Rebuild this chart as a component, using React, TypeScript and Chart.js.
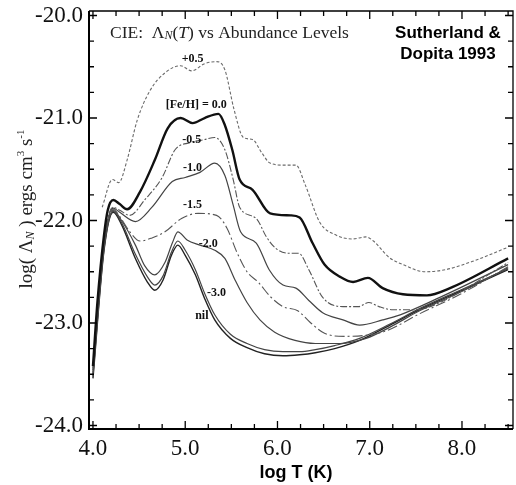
import React, { useEffect, useRef } from "react";
import { Chart, registerables } from "chart.js";

Chart.register(...registerables);

// ---- Data: log T (K) and log(Lambda_N) for each abundance level ----
const tPlus05 = [4.10, 4.21, 4.28, 4.37, 4.48, 4.62, 4.78, 4.95, 5.07, 5.21, 5.34, 5.43, 5.53, 5.63, 5.73, 5.83, 5.92, 6.08, 6.20, 6.30, 6.46, 6.63, 6.81, 6.96, 7.04, 7.21, 7.36, 7.60, 7.82, 8.14, 8.50];
const vPlus05 = [-21.87, -21.60, -21.63, -21.41, -21.02, -20.73, -20.56, -20.49, -20.54, -20.47, -20.45, -20.53, -20.92, -21.19, -21.21, -21.34, -21.44, -21.46, -21.46, -21.65, -22.02, -22.14, -22.18, -22.16, -22.20, -22.36, -22.43, -22.50, -22.48, -22.39, -22.26];

const tSolar = [4.00, 4.05, 4.12, 4.16, 4.22, 4.29, 4.37, 4.51, 4.67, 4.81, 4.95, 5.08, 5.21, 5.36, 5.43, 5.51, 5.59, 5.73, 5.92, 6.14, 6.24, 6.38, 6.51, 6.68, 6.82, 6.98, 7.14, 7.36, 7.62, 7.87, 8.50];
const vSolar = [-23.42, -22.78, -22.14, -21.90, -21.80, -21.84, -21.89, -21.72, -21.41, -21.10, -21.00, -21.05, -21.00, -20.96, -21.07, -21.31, -21.60, -21.70, -21.93, -21.95, -21.97, -22.22, -22.43, -22.55, -22.60, -22.56, -22.66, -22.72, -22.73, -22.66, -22.37];

const tMinus05 = [4.00, 4.12, 4.22, 4.29, 4.40, 4.56, 4.75, 4.89, 5.05, 5.21, 5.32, 5.43, 5.52, 5.59, 5.77, 5.88, 5.98, 6.12, 6.23, 6.34, 6.49, 6.71, 6.88, 6.99, 7.10, 7.25, 7.51, 7.76, 8.50];
const vMinus05 = [-23.44, -22.19, -21.87, -21.90, -21.95, -21.80, -21.58, -21.31, -21.24, -21.21, -21.19, -21.31, -21.60, -21.87, -21.98, -22.16, -22.27, -22.32, -22.32, -22.48, -22.75, -22.84, -22.84, -22.80, -22.84, -22.87, -22.87, -22.80, -22.41];

const tMinus10 = [4.00, 4.12, 4.22, 4.29, 4.46, 4.64, 4.86, 5.00, 5.16, 5.32, 5.43, 5.52, 5.60, 5.77, 5.91, 6.06, 6.20, 6.34, 6.49, 6.71, 6.89, 7.14, 7.33, 7.76, 8.50];
const vMinus10 = [-23.46, -22.21, -21.88, -21.92, -22.01, -21.87, -21.62, -21.58, -21.53, -21.44, -21.56, -21.85, -22.11, -22.22, -22.48, -22.63, -22.66, -22.78, -22.90, -22.97, -23.02, -22.97, -22.92, -22.75, -22.43];

const tMinus15 = [4.00, 4.12, 4.22, 4.29, 4.40, 4.51, 4.64, 4.78, 4.96, 5.14, 5.34, 5.45, 5.56, 5.67, 5.79, 5.92, 6.06, 6.22, 6.35, 6.51, 6.73, 6.95, 7.17, 7.54, 7.98, 8.50];
const vMinus15 = [-23.48, -22.24, -21.89, -21.96, -22.11, -22.20, -22.17, -22.11, -21.98, -21.93, -21.95, -22.07, -22.31, -22.50, -22.60, -22.74, -22.84, -22.88, -22.99, -23.10, -23.13, -23.12, -23.08, -22.91, -22.72, -22.45];

const tMinus20 = [4.00, 4.12, 4.22, 4.31, 4.46, 4.56, 4.67, 4.78, 4.86, 4.92, 5.02, 5.16, 5.32, 5.43, 5.54, 5.67, 5.81, 5.97, 6.19, 6.41, 6.68, 6.96, 7.22, 7.54, 7.98, 8.50];
const vMinus20 = [-23.50, -22.26, -21.90, -22.00, -22.24, -22.44, -22.53, -22.41, -22.22, -22.11, -22.19, -22.24, -22.29, -22.37, -22.58, -22.80, -22.97, -23.09, -23.17, -23.20, -23.20, -23.15, -23.04, -22.88, -22.70, -22.46];

const tMinus30 = [4.00, 4.12, 4.22, 4.31, 4.46, 4.59, 4.67, 4.76, 4.85, 4.92, 5.00, 5.11, 5.21, 5.32, 5.49, 5.67, 5.86, 6.06, 6.24, 6.41, 6.62, 6.89, 7.22, 7.54, 7.98, 8.50];
const vMinus30 = [-23.52, -22.28, -21.91, -22.02, -22.33, -22.55, -22.63, -22.54, -22.31, -22.20, -22.29, -22.48, -22.71, -22.92, -23.11, -23.20, -23.26, -23.28, -23.28, -23.26, -23.22, -23.15, -23.01, -22.86, -22.68, -22.47];

const tNil = [4.00, 4.12, 4.22, 4.31, 4.46, 4.59, 4.67, 4.76, 4.85, 4.92, 5.00, 5.11, 5.21, 5.32, 5.49, 5.67, 5.86, 6.06, 6.24, 6.41, 6.62, 6.89, 7.22, 7.54, 7.98, 8.50];
const vNil = [-23.54, -22.29, -21.92, -22.04, -22.37, -22.60, -22.68, -22.58, -22.34, -22.24, -22.34, -22.53, -22.76, -22.97, -23.15, -23.24, -23.30, -23.32, -23.31, -23.29, -23.25, -23.17, -23.02, -22.87, -22.69, -22.48];

// curve annotation labels (placed in data coordinates)
const curveLabels = ["+0.5", "[Fe/H] = 0.0", "-0.5", "-1.0", "-1.5", "-2.0", "-3.0", "nil"];
const curveLabelT = [5.08, 5.12, 5.07, 5.08, 5.08, 5.25, 5.34, 5.18];
const curveLabelV = [-20.42, -20.87, -21.21, -21.49, -21.85, -22.23, -22.71, -22.93];

// axes
const xMin = 3.957;
const xMax = 8.553;
const yMin = -24.034;
const yMax = -19.956;
const xTickValues = [4, 5, 6, 7, 8];
const yTickValues = [-24, -23, -22, -21, -20];
const minorStep = 0.25;

const SERIF = '"Liberation Serif", "Times New Roman", serif';
const SANS = '"Liberation Sans", Arial, sans-serif';

type Run = { text: string; font: string; dy?: number };

function runsWidth(ctx: CanvasRenderingContext2D, runs: Run[]) {
  let w = 0;
  for (const r of runs) {
    ctx.font = r.font;
    w += ctx.measureText(r.text).width;
  }
  return w;
}
function drawRuns(ctx: CanvasRenderingContext2D, runs: Run[], x: number, y: number) {
  let cx = x;
  for (const r of runs) {
    ctx.font = r.font;
    ctx.fillText(r.text, cx, y + (r.dy || 0));
    cx += ctx.measureText(r.text).width;
  }
}

const decorPlugin = {
  id: "decor",
  afterDraw(chart: any) {
    const ctx: CanvasRenderingContext2D = chart.ctx;
    const xs = chart.scales.x;
    const ys = chart.scales.y;
    const { left, right, top, bottom } = chart.chartArea;
    ctx.save();
    ctx.strokeStyle = "#000";
    ctx.fillStyle = "#000";

    // frame
    ctx.lineWidth = 2;
    ctx.beginPath();
    ctx.moveTo(left, top);
    ctx.lineTo(left, bottom);
    ctx.lineTo(right, bottom);
    ctx.stroke();
    ctx.lineWidth = 1.3;
    ctx.beginPath();
    ctx.moveTo(left, top);
    ctx.lineTo(right, top);
    ctx.lineTo(right, bottom);
    ctx.stroke();

    // inward ticks
    ctx.lineWidth = 1.3;
    ctx.beginPath();
    for (let v = xTickValues[0]; v <= 8.5 + 1e-6; v += minorStep) {
      const px = xs.getPixelForValue(v);
      const major = Math.abs(v - Math.round(v)) < 1e-6;
      const len = major ? 8 : 5;
      ctx.moveTo(px, bottom);
      ctx.lineTo(px, bottom - len);
      ctx.moveTo(px, top);
      ctx.lineTo(px, top + len);
    }
    for (let v = yTickValues[0]; v <= yTickValues[yTickValues.length - 1] + 1e-6; v += minorStep) {
      const py = ys.getPixelForValue(v);
      const major = Math.abs(v - Math.round(v)) < 1e-6;
      const len = major ? 8 : 5;
      ctx.moveTo(left, py);
      ctx.lineTo(left + len, py);
      ctx.moveTo(right, py);
      ctx.lineTo(right - len, py);
    }
    ctx.stroke();

    // curve labels
    ctx.fillStyle = "#111";
    ctx.textAlign = "center";
    ctx.textBaseline = "middle";
    ctx.font = `bold 12px ${SERIF}`;
    curveLabels.forEach((txt, i) => {
      ctx.fillText(txt, xs.getPixelForValue(curveLabelT[i]), ys.getPixelForValue(curveLabelV[i]));
    });

    // inner title
    ctx.textAlign = "left";
    ctx.textBaseline = "alphabetic";
    ctx.fillStyle = "#222";
    const titleRuns: Run[] = [
      { text: "CIE:  Λ", font: `17.5px ${SERIF}` },
      { text: "N", font: `italic 12px ${SERIF}`, dy: 1 },
      { text: "(", font: `17.5px ${SERIF}` },
      { text: "T", font: `italic 17.5px ${SERIF}` },
      { text: ") vs Abundance Levels", font: `17.5px ${SERIF}` },
    ];
    drawRuns(ctx, titleRuns, left + 21, top + 26.5);

    // Sutherland & Dopita
    ctx.fillStyle = "#000";
    ctx.textAlign = "center";
    ctx.font = `bold 17px ${SANS}`;
    ctx.fillText("Sutherland &", right - 65, top + 27);
    ctx.fillText("Dopita 1993", right - 65, top + 48);

    // x-axis title
    ctx.font = `bold 18px ${SANS}`;
    ctx.fillText("log T (K)", (left + right) / 2 - 5, 478);

    // y-axis title (rotated)
    const yRuns: Run[] = [
      { text: "log( Λ", font: `19px ${SERIF}` },
      { text: "N", font: `italic 12px ${SERIF}`, dy: 2 },
      { text: " ) ergs cm", font: `19px ${SERIF}` },
      { text: "3", font: `11px ${SERIF}`, dy: -8 },
      { text: " s", font: `19px ${SERIF}` },
      { text: "-1", font: `11px ${SERIF}`, dy: -8 },
    ];
    const w = runsWidth(ctx, yRuns);
    ctx.save();
    ctx.translate(32, 209);
    ctx.rotate(-Math.PI / 2);
    ctx.textAlign = "left";
    ctx.fillStyle = "#222";
    drawRuns(ctx, yRuns, -w / 2, 0);
    ctx.restore();

    ctx.restore();
  },
};

function mk(t: number[], v: number[]) {
  return t.map((x, i) => ({ x, y: v[i] }));
}

export default function App() {
  const ref = useRef<HTMLCanvasElement | null>(null);
  useEffect(() => {
    if (!ref.current) return;
    const base = { pointRadius: 0, fill: false, cubicInterpolationMode: "monotone" as const };
    const chart = new Chart(ref.current, {
      type: "line",
      data: {
        datasets: [
          { ...base, label: "+0.5", data: mk(tPlus05, vPlus05), borderColor: "#6a6a6a", borderWidth: 1.1, borderDash: [3, 2] },
          { ...base, label: "0.0", data: mk(tSolar, vSolar), borderColor: "#111", borderWidth: 2.4 },
          { ...base, label: "-0.5", data: mk(tMinus05, vMinus05), borderColor: "#555", borderWidth: 1.1, borderDash: [7, 2, 2, 2] },
          { ...base, label: "-1.0", data: mk(tMinus10, vMinus10), borderColor: "#444", borderWidth: 1.2 },
          { ...base, label: "-1.5", data: mk(tMinus15, vMinus15), borderColor: "#555", borderWidth: 1.1, borderDash: [10, 3, 2, 3] },
          { ...base, label: "-2.0", data: mk(tMinus20, vMinus20), borderColor: "#444", borderWidth: 1.2 },
          { ...base, label: "-3.0", data: mk(tMinus30, vMinus30), borderColor: "#444", borderWidth: 1.2 },
          { ...base, label: "nil", data: mk(tNil, vNil), borderColor: "#222", borderWidth: 1.4 },
        ],
      },
      options: {
        animation: false,
        responsive: false,
        devicePixelRatio: 1,
        layout: { padding: { left: 0, right: 3, top: 11, bottom: 0 } },
        plugins: { legend: { display: false }, tooltip: { enabled: false }, title: { display: false } },
        scales: {
          x: {
            type: "linear",
            min: xMin,
            max: xMax,
            grid: { display: false, drawTicks: false },
            border: { display: false },
            afterBuildTicks: (s: any) => {
              s.ticks = xTickValues.map((value) => ({ value }));
            },
            afterFit: (s: any) => {
              s.height = 56;
              s.paddingLeft = 0;
              s.paddingRight = 0;
            },
            ticks: {
              padding: 6,
              color: "#111",
              font: { family: SERIF, size: 23 },
              callback: (v: any) => Number(v).toFixed(1),
              maxRotation: 0,
            },
          },
          y: {
            type: "linear",
            min: yMin,
            max: yMax,
            grid: { display: false, drawTicks: false },
            border: { display: false },
            afterBuildTicks: (s: any) => {
              s.ticks = yTickValues.map((value) => ({ value }));
            },
            afterFit: (s: any) => {
              s.width = 89;
              s.paddingTop = 0;
              s.paddingBottom = 0;
            },
            ticks: {
              padding: 6,
              color: "#111",
              font: { family: SERIF, size: 23 },
              callback: (v: any) => Number(v).toFixed(1),
            },
          },
        },
      },
      plugins: [decorPlugin],
    });
    return () => chart.destroy();
  }, []);
  return (
    <div style={{ position: "absolute", left: 0, top: 0, width: 516, height: 485, background: "#fff" }}>
      <canvas ref={ref} width={516} height={485} style={{ display: "block" }} />
    </div>
  );
}
